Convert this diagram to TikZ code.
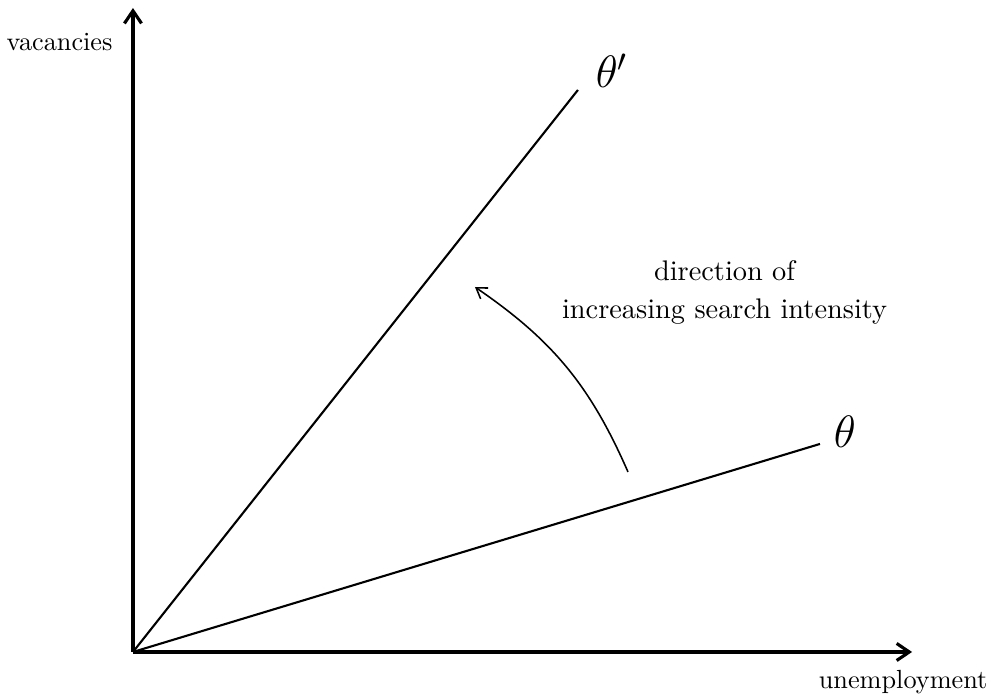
\documentclass[tikz,border=0pt]{standalone}
\usepackage{amsmath,amssymb}
\usepackage{xcolor}
\usepackage{tikz}
\usetikzlibrary{arrows.meta}

\begin{document}
\begin{tikzpicture}[
    axis/.style={very thick, -{Straight Barb[length=4.8pt,width=6.5pt]}},
    ray/.style={thick},
    axislabel/.style={font=\normalsize},
    raylabel/.style={font=\LARGE},
  ]
        \useasboundingbox (-1.780,-0.562) rectangle (11.50,8.728);
        \coordinate (O) at (0,0);
        \coordinate (ytop) at (0,8.621);
        \coordinate (xend) at (10.43,0);
        \coordinate (thetap) at (5.957,7.524);
        \coordinate (theta) at (9.197,2.785);
        \coordinate (arcstart) at (6.627,2.410);
        \coordinate (arcend) at (4.578,4.886);
        \draw[axis] (O) -- (ytop);
        \draw[axis] (O) -- (xend);
        \draw[ray] (O) -- (thetap);
        \draw[ray] (O) -- (theta);
        \draw[semithick, -{Straight Barb[length=3.8pt,width=5pt]}] (arcstart) to[bend right=16] (arcend);
        \node[axislabel, anchor=east] (vac) at (-0.15,8.17) {vacancies};
        \node[axislabel] (unemp) at (10.31,-0.40) {unemployment};
        \node[raylabel] (thetaplab) at (6.41,7.778) {$\theta'$};
        \node[raylabel] (thetalab) at (9.531,2.945) {$\theta$};
        \node[font=\fontsize{10.8}{14.5}\selectfont, align=center] (dirlab) at (7.92,4.819)
          {direction of\\increasing search intensity};
      \end{tikzpicture}
\end{document}
